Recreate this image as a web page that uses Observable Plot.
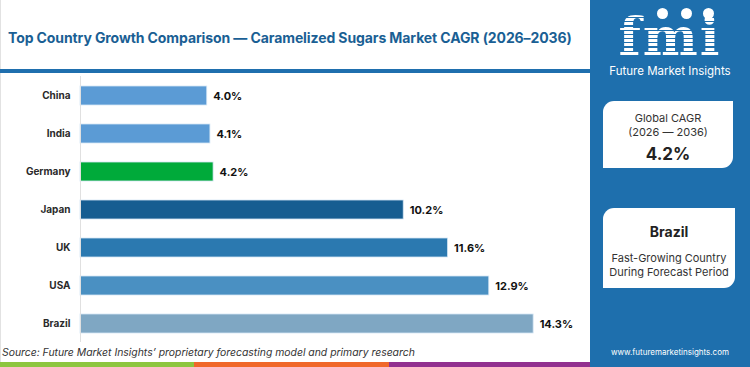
<!DOCTYPE html>
<html>
<head>
<meta charset="utf-8">
<script src="https://cdn.jsdelivr.net/npm/d3@7"></script>
<script src="https://cdn.jsdelivr.net/npm/@observablehq/plot@0.6"></script>
<style>
  html, body { margin:0; padding:0; background:#fff; }
  #root { position:relative; width:750px; height:367px; overflow:hidden; font-family: Inter, "Open Sans", sans-serif; background:#fff; }
  .abs { position:absolute; }
  #title { left:8px; top:29px; font-size:14px; font-weight:700; color:#1a5f94; white-space:nowrap; letter-spacing:-0.1px; }
  #rule { left:0; top:69px; width:590px; height:4px; background:#1f6fae; }
  #leftborder { left:0; top:0; width:1px; height:362px; background:#e2e2e2; }
  #chart { left:0; top:76px; }
  #source { left:2px; top:346px; font-size:10.4px; font-style:italic; color:#333; white-space:nowrap; }
  .strip { top:362px; height:5px; }
  #panel { left:590px; top:0; width:160px; height:367px; background:#1e6fad; }
  .box { background:#fff; border-radius:11px 0 11px 0; text-align:center; color:#333; }
  #logo { left:0; top:14px; width:160px; height:46px; text-align:center; font-family:"DejaVu Serif", serif; font-weight:900; font-size:52px; line-height:46px; letter-spacing:2px;
    background: repeating-linear-gradient(to bottom, #fff 0px, #fff 3px, #1e6fad 3px, #1e6fad 4.2px);
    -webkit-background-clip:text; background-clip:text; color:transparent; }
  .dot { width:11px; height:11px; border-radius:50%; background:#fff; top:8px; }
  #fmitext { left:0; top:64px; width:160px; text-align:center; color:#fff; font-size:11.5px; line-height:14px; }
  #web { left:0; top:347px; width:160px; text-align:center; color:#fff; font-size:8px; }
</style>
</head>
<body>
<div id="root">
  <div id="leftborder" class="abs"></div>
  <div id="title" class="abs">Top Country Growth Comparison — Caramelized Sugars Market CAGR (2026–2036)</div>
  <div id="rule" class="abs"></div>
  <div id="chart" class="abs"></div>
  <div id="source" class="abs">Source: Future Market Insights’ proprietary forecasting model and primary research</div>
  <div class="abs strip" style="left:0;width:194px;background:#8dc63f"></div>
  <div class="abs strip" style="left:194px;width:195px;background:#f0682a"></div>
  <div class="abs strip" style="left:389px;width:201px;background:#92308f"></div>
  <div id="panel" class="abs">
    <div id="logo" class="abs">fmi</div>
    <div class="abs dot" style="left:67px"></div>
    <div class="abs dot" style="left:91px"></div>
    <div class="abs dot" style="left:113px"></div>
    <div id="fmitext" class="abs">Future Market Insights</div>
    <div class="abs box" style="left:13px;top:101px;width:130px;height:67px;">
      <div style="font-size:11px;margin-top:10px;line-height:14px;">Global CAGR</div>
      <div style="font-size:11px;line-height:14px;">(2026 — 2036)</div>
      <div style="font-size:17px;font-weight:700;color:#222;margin-top:5px;line-height:20px;">4.2%</div>
    </div>
    <div class="abs box" style="left:13px;top:208px;width:132px;height:80px;">
      <div style="font-size:14px;font-weight:700;color:#222;margin-top:16px;line-height:16px;">Brazil</div>
      <div style="font-size:11px;margin-top:11px;line-height:14px;">Fast-Growing Country</div>
      <div style="font-size:11px;line-height:14px;">During Forecast Period</div>
    </div>
    <div id="web" class="abs">www.futuremarketinsights.com</div>
  </div>
</div>
<script>
const countries = ["China", "India", "Germany", "Japan", "UK", "USA", "Brazil"];
const cagr = [4.0, 4.1, 4.2, 10.2, 11.6, 12.9, 14.3];
const barColors = ["#5b9bd5", "#5b9bd5", "#00aa3a", "#165d91", "#2b79b0", "#4a90c2", "#7fa7c3"];

const data = countries.map((c, i) => ({country: c, value: cagr[i], color: barColors[i]}));

const chart = Plot.plot({
  width: 590,
  height: 266,
  marginLeft: 80,
  marginRight: 3,
  marginTop: 0,
  marginBottom: 0,
  style: {fontFamily: "Inter, sans-serif", background: "transparent"},
  x: {domain: [0, 16], axis: null},
  y: {domain: countries, paddingInner: 0.5, paddingOuter: 0.25, axis: null},
  color: {type: "identity"},
  marks: [
    Plot.barX(data, {x: "value", y: "country", fill: "color", stroke: "#d4e6f4", strokeWidth: 0.8}),
    Plot.ruleX([0], {stroke: "#e0e0e0"}),
    Plot.axisY({tickSize: 0, tickPadding: 10, fontWeight: 700, fontSize: 10, fill: "#2a2a2a", label: null}),
    Plot.text(data, {x: "value", y: "country", text: d => d.value.toFixed(1) + "%", textAnchor: "start", dx: 6, fontWeight: 700, fontSize: 11, fill: "#111"})
  ]
});
document.getElementById("chart").appendChild(chart);
</script>
</body>
</html>
